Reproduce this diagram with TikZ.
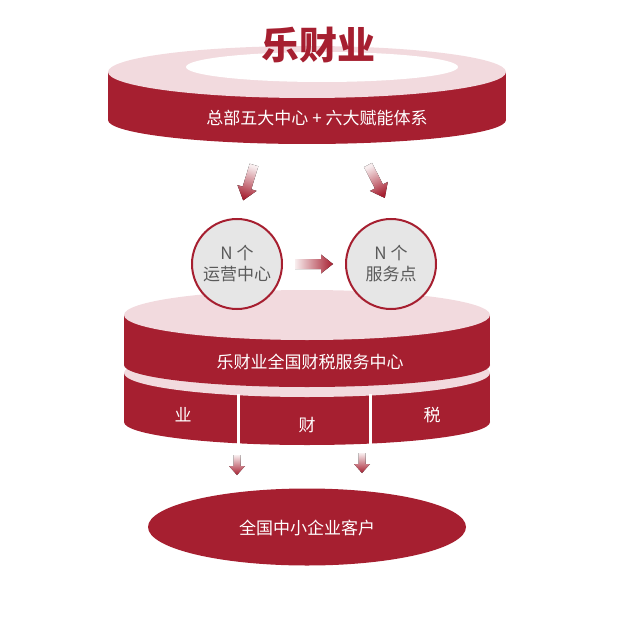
\documentclass[tikz,border=0pt]{standalone}
\usepackage{fontspec}
\setmainfont{Noto Sans CJK SC}
\usetikzlibrary{shapes.geometric}
\definecolor{dred}{RGB}{166,31,48}
\definecolor{lpink}{RGB}{242,218,222}
\definecolor{cgray}{RGB}{230,230,230}
\definecolor{tgray}{RGB}{90,90,90}
\newcommand{\gradarrow}[7]{% x y angle L shaft-hw head-hw head-len
  \fill[top color=dred!8, bottom color=dred, shading angle={#3+90}]
    [shift={(#1,#2)}, rotate=#3]
    (0,-#5) -- ({#4-#7},-#5) -- ({#4-#7},-#6) -- (#4,0)
    -- ({#4-#7},#6) -- ({#4-#7},#5) -- (0,#5) -- cycle;}
\begin{document}
\begin{tikzpicture}[x=1pt,y=1pt,
  wtext/.style={text=white, font=\fontsize{17}{19}\selectfont, inner sep=0pt},
  ctext/.style={text=white, font=\fontsize{17}{19}\selectfont, inner sep=0pt},
  rcircle/.style={circle, draw=dred, line width=2pt, fill=cgray, minimum size=90pt,
    align=center, text=tgray, font=\fontsize{17}{21}\selectfont, inner sep=0pt}]
\useasboundingbox (0,0) rectangle (632,-639);
% ---- top disc
\fill[dred] (307,-120) ellipse [x radius=199pt, y radius=24pt];
\fill[dred] (108,-72) rectangle (506,-120);
\fill[lpink] (307,-72) ellipse [x radius=199pt, y radius=26pt];
\fill[white] (322,-67) ellipse [x radius=136pt, y radius=15pt];
\node[text=dred, font=\fontsize{38}{40}\selectfont\bfseries, inner sep=0pt] (title) at (318,-45) {乐财业};
\node[wtext] (hq) at (317,-118) {总部五大中心 + 六大赋能体系};
% ---- arrows from top disc
\gradarrow{254}{-165}{-107}{37}{4.5}{10}{13}
\gradarrow{368}{-165}{-63}{37}{4.5}{10}{13}
% ---- lower (second) disc
\fill[dred] (307,-422) ellipse [x radius=183pt, y radius=23pt];
\fill[dred] (124,-373) rectangle (490,-422);
\fill[lpink] (307,-373) ellipse [x radius=183pt, y radius=24pt];
% ---- upper (first) disc of middle stack
\fill[dred] (307,-365) ellipse [x radius=183pt, y radius=22pt];
\fill[dred] (124,-315) rectangle (490,-365);
\fill[lpink] (307,-315) ellipse [x radius=183pt, y radius=25pt];
\node[ctext] (center) at (310,-362) {乐财业全国财税服务中心};
% dividers
\coordinate (d1t) at (238,-394);
\coordinate (d1b) at (238,-445);
\coordinate (d2t) at (370,-394);
\coordinate (d2b) at (370,-445);
\draw[white, line width=3pt] (d1t) -- (d1b);
\draw[white, line width=3pt] (d2t) -- (d2b);
\node[ctext] (ye) at (183,-415) {业};
\node[ctext] (cai) at (307,-425) {财};
\node[ctext] (shui) at (432,-415) {税};
% ---- circles
\node[rcircle] (c1) at (237,-264) {N 个\\运营中心};
\node[rcircle] (c2) at (391,-264) {N 个\\服务点};
\gradarrow{295}{-264}{0}{38}{5}{9.5}{12}
% ---- small arrows
\gradarrow{237}{-455}{-90}{20}{3.5}{8}{9}
\gradarrow{362}{-453}{-90}{20}{3.5}{8}{9}
% ---- customers
\node[ellipse, fill=dred, minimum width=318pt, minimum height=77pt, inner sep=0pt] (cust) at (307,-527) {};
\node[ctext] (custtext) at (307,-528) {全国中小企业客户};
\end{tikzpicture}
\end{document}
